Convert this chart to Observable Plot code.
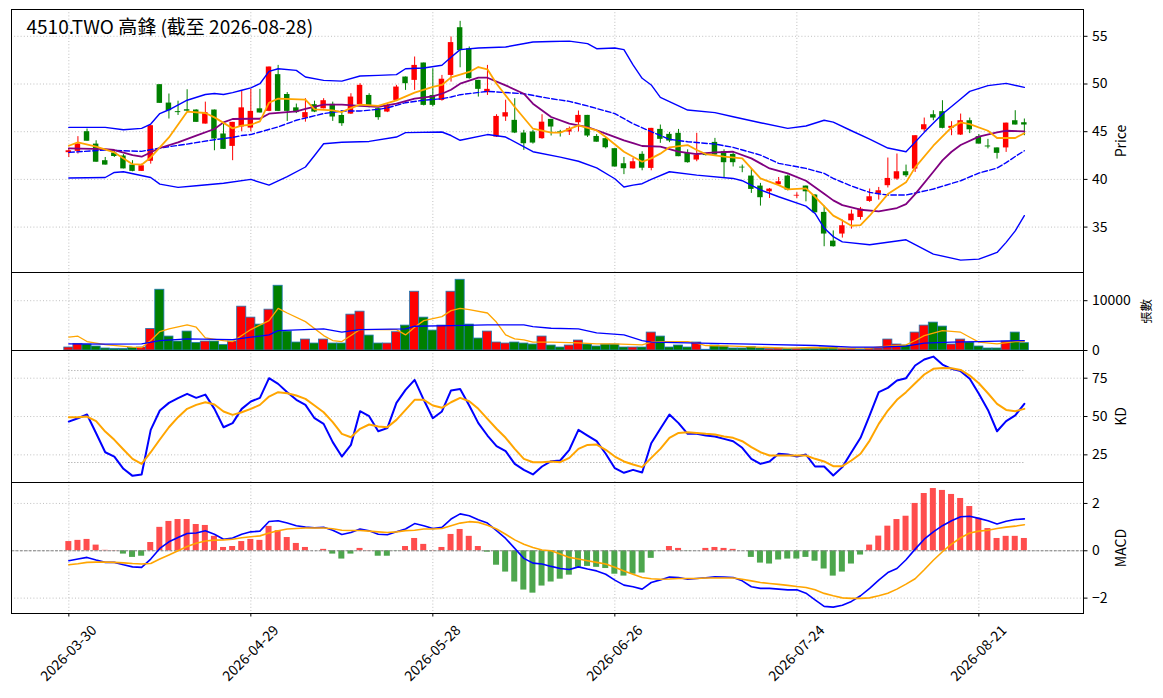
<!DOCTYPE html>
<html><head><meta charset="utf-8">
<script src="https://cdn.jsdelivr.net/npm/d3@7"></script>
<script src="https://cdn.jsdelivr.net/npm/@observablehq/plot@0.6"></script>
<style>
html,body{margin:0;padding:0;background:#fff;}
#chart{width:1163px;}
#chart svg{display:block;overflow:visible;}
</style></head><body><div id="chart"></div>
<script>
// ---------- data ----------
const titleText = "4510.TWO 高鋒 (截至 2026-08-28)";
const tickIdx = [0, 20, 40, 60, 80, 100];
const tickLabels = ["2026-03-30", "2026-04-29", "2026-05-28", "2026-06-26", "2026-07-24", "2026-08-21"];

const opens = [42.8,42.94,45.0,43.7,41.96,42.76,42.45,41.5,40.84,41.9, 49.93,48.0,47.1,47.3,47.27,45.8,47.27,44.76,43.46,45.5,
 45.38,47.4,47.13,50.98,48.9,47.5,46.43,47.83,47.4,47.87, 46.7,46.85,47.83,48.8,47.41,47.06,48.28,50.73,50.38,52.2,
 48.8,48.28,50.9,55.9,53.7,50.38,49.1,44.44,46.54,46.19, 44.86,44.97,44.27,46.29,44.95,44.97,45.94,46.71,44.5,44.27,
 43.22,41.64,41.1,42.63,41.15,45.24,44.72,44.83,42.73,42.03, 42.6,43.88,42.9,42.62,41.25,40.35,39.3,38.7,39.44,40.35,
 38.25,39.3,38.36,36.54,33.53,34.27,35.66,36.01,37.69,38.53, 39.34,40.03,40.8,41.08,45.2,46.78,47.1,45.35,44.65,46.15,
 44.48,43.5,43.3,43.3,46.15,45.94];
const highs = [43.2,44.48,45.28,44.05,42.3,43.0,42.6,41.96,41.6,45.63, 49.93,48.95,48.2,49.4,47.3,48.1,47.27,45.8,45.98,49.3,
 49.44,49.44,51.78,51.95,49.1,47.9,48.46,48.2,48.46,48.1, 47.2,48.98,50.03,48.98,47.45,47.9,49.86,50.73,52.83,52.2,
 51.6,50.9,54.93,56.57,53.88,50.38,51.95,46.78,48.3,48.46, 45.14,45.14,46.78,46.3,45.14,45.49,47.17,46.71,44.7,44.4,
 43.22,42.3,42.2,42.9,45.35,45.7,44.93,45.24,43.1,44.83, 42.65,44.3,43.1,42.9,41.5,41.15,39.58,39.05,40.2,40.45,
 38.6,39.3,38.4,37.2,34.6,35.73,36.78,37.06,38.99,39.16, 42.24,42.66,41.5,44.58,46.43,47.2,48.25,46.05,46.85,46.43,
 44.7,44.2,43.3,45.9,47.2,46.33];
const lows = [42.3,42.66,44.0,41.8,41.5,42.3,41.1,40.8,40.84,41.6, 47.97,46.33,46.7,47.1,45.98,45.8,43.0,43.15,41.96,45.0,
 45.0,46.96,47.1,47.1,46.08,46.9,46.0,47.0,47.4,46.08, 45.56,46.8,47.8,47.5,46.2,47.0,48.2,49.33,49.33,47.7,
 47.6,48.2,50.2,51.7,50.5,48.63,48.8,44.4,46.08,44.8, 43.04,43.7,44.2,44.55,44.44,44.6,44.97,44.4,43.9,43.2,
 41.3,40.5,41.08,40.9,40.9,43.78,43.85,42.38,41.7,41.85, 42.45,42.5,40.1,41.3,40.7,38.53,37.2,38.0,39.4,38.8,
 38.0,37.65,36.5,32.94,32.9,33.85,34.79,35.73,37.59,37.83, 39.1,39.9,40.2,40.73,45.0,46.15,45.3,44.58,44.6,44.8,
 43.7,43.2,42.13,42.83,45.7,44.58];
const closes = [43.0,43.7,44.0,41.8,41.5,42.4,41.1,40.84,41.43,45.63, 47.97,47.2,47.0,47.15,45.98,47.0,44.23,43.15,45.98,47.5,
 47.13,46.96,51.78,47.13,47.13,47.0,47.0,47.06,48.25,46.54, 45.84,48.63,49.86,47.76,46.47,47.69,49.68,50.03,51.95,47.76,
 47.76,50.5,54.34,53.5,50.56,49.44,49.44,46.6,46.99,44.86, 43.74,43.81,46.0,45.49,44.9,45.31,46.71,44.55,43.9,43.32,
 41.3,41.12,41.85,41.17,45.35,44.2,44.02,42.38,41.75,42.55, 42.5,42.55,41.75,41.75,41.2,38.95,38.08,38.98,39.75,38.88,
 38.3,38.7,36.5,34.27,32.94,35.14,36.36,36.89,38.18,38.81, 40.1,40.8,40.38,44.58,45.73,46.43,45.35,45.56,46.15,45.2,
 43.7,43.4,42.73,45.9,45.7,45.7];
const volumes = [600,1330,1200,800,400,330,330,530,600,4330, 12200,2800,1800,3800,1530,1800,1800,1130,1800,8800,
 6600,5200,8200,13000,3800,1600,2200,1400,2200,1400, 1400,7200,7800,3000,1400,1400,3670,5000,11800,6600,
 4000,5000,11800,14200,5200,2400,3800,1600,1400,1600, 1400,1200,2800,1000,600,1000,2000,1200,800,1200,
 1200,600,600,600,3600,2800,600,1000,600,1600, 150,1000,800,400,400,670,400,330,400,330,
 330,330,330,600,600,330,330,200,400,400, 2200,1200,1000,3600,5000,5600,4800,1200,2200,1600,
 800,400,400,1800,3600,1470];

// price-panel lines: [candle index, value]
const ma5 = [[0,43.53],[1,43.88],[3,43.43],[5,42.83],[7,41.6],[8,41.54],[9,42.3],[11,44.4],[13,47.1],[15,46.96],[16,46.5],[18,45.35],[19,45.63],[20,45.73],[21,46.08],[22,48.04],[23,48.46],[26,48.36],[27,47.34],[29,47.24],[30,47.06],[31,47.48],[32,47.83],[34,47.7],[36,48.29],[38,49.1],[40,49.69],[41,49.9],[42,50.7],[44,51.26],[45,51.78],[46,51.54],[47,50.03],[49,47.59],[51,45.31],[53,44.9],[54,44.9],[56,45.66],[58,45.14],[59,44.44],[61,42.9],[63,41.85],[64,42.2],[65,42.7],[66,43.36],[68,43.6],[69,43.08],[70,42.66],[72,42.38],[74,42.2],[75,41.15],[76,40.1],[78,39.4],[79,38.95],[81,39.05],[82,38.18],[83,37.2],[84,36.2],[85,35.7],[86,35.14],[87,35.2],[88,36.19],[90,38.46],[92,39.69],[93,41.26],[95,43.53],[97,45.45],[98,45.98],[99,45.8],[101,45.1],[102,44.34],[104,44.34],[105,44.83]];
const ma10 = [[0,43.25],[4,43.18],[5,43.08],[7,42.55],[8,42.38],[10,43.29],[12,43.88],[14,44.58],[16,45.28],[17,45.98],[18,46.33],[20,46.36],[21,46.36],[22,46.89],[25,47.13],[26,47.4],[28,47.83],[30,47.83],[32,47.7],[34,47.6],[36,47.94],[38,48.46],[40,48.7],[41,48.98],[42,49.4],[43,50.03],[45,50.66],[46,50.66],[48,49.86],[50,48.98],[51,47.94],[53,46.54],[55,45.84],[57,45.49],[59,44.79],[61,44.1],[62,43.8],[63,43.5],[65,43.43],[67,42.9],[69,42.66],[71,42.83],[73,42.9],[75,42.2],[77,41.15],[79,40.63],[81,39.86],[83,38.5],[84,37.8],[85,37.3],[87,36.82],[89,36.64],[91,37.0],[92,37.41],[93,38.46],[95,40.8],[96,42.0],[97,42.9],[98,43.6],[100,44.48],[102,44.93],[103,45.1],[105,45.03]];
const bbMid = [[0,42.83],[4,43.08],[6,43.0],[8,42.94],[10,43.29],[13,43.7],[16,44.16],[18,44.4],[19,44.6],[20,44.7],[21,44.97],[23,45.5],[25,46.2],[28,46.9],[30,47.17],[32,47.17],[34,47.34],[35,47.5],[37,48.04],[39,48.3],[41,48.46],[42,48.64],[43,48.88],[46,49.23],[50,48.98],[53,48.46],[55,48.18],[57,47.7],[60,46.9],[62,45.84],[64,45.0],[66,44.2],[68,43.95],[71,43.7],[73,43.36],[76,42.55],[78,41.68],[81,41.15],[83,40.63],[84,40.1],[85,39.7],[86,39.3],[88,38.64],[90,38.36],[92,38.36],[95,38.99],[98,39.86],[100,40.66],[102,41.19],[103,41.75],[104,42.4],[105,43.0]];
const bbUpper = [[0,45.45],[2,45.45],[4,45.45],[6,45.2],[8,45.35],[9,45.8],[10,46.9],[11,47.3],[13,48.3],[15,48.9],[16,49.0],[17,48.9],[18,49.1],[19,49.35],[20,49.6],[21,50.03],[22,51.33],[23,51.6],[25,51.43],[26,50.73],[28,50.38],[30,50.3],[32,50.84],[34,50.9],[36,50.98],[37,51.6],[39,51.68],[41,51.96],[42,52.8],[43,53.6],[45,53.78],[48,53.88],[51,54.4],[53,54.45],[55,54.5],[57,54.23],[58,53.7],[60,53.78],[61,53.6],[62,52.0],[63,50.6],[64,49.9],[65,48.6],[66,48.15],[68,47.27],[71,47.0],[73,46.57],[76,45.94],[79,45.35],[81,45.6],[83,46.2],[84,46.0],[86,45.1],[88,44.23],[90,43.29],[92,42.9],[94,44.93],[96,46.85],[98,48.43],[99,49.23],[101,49.83],[103,50.07],[105,49.65]];
const bbLower = [[0,40.14],[4,40.2],[5,40.73],[6,40.8],[9,40.2],[10,39.5],[12,39.16],[14,39.34],[17,39.6],[20,40.0],[22,39.4],[24,40.3],[26,41.3],[27,42.5],[28,43.74],[30,43.9],[33,43.98],[36,44.44],[37,44.9],[41,44.97],[42,44.6],[43,44.1],[46,44.7],[48,44.44],[51,42.9],[54,42.34],[56,41.9],[58,41.2],[60,40.07],[61,39.2],[62,39.4],[63,39.55],[64,40.0],[66,40.8],[69,40.45],[73,40.1],[74,39.86],[76,38.9],[78,38.18],[81,37.2],[82,36.43],[83,34.9],[84,34.0],[85,33.45],[88,33.15],[92,33.67],[95,32.17],[98,31.54],[100,31.64],[102,32.34],[103,33.4],[104,34.6],[105,36.2]];

// volume-panel lines
const volMa5 = [[0,2670],[1,2870],[2,1800],[4,1200],[7,670],[8,600],[9,2000],[10,3800],[11,4330],[13,5130],[14,4670],[15,2530],[17,2000],[18,1800],[19,3000],[20,4200],[22,6000],[23,8470],[24,7530],[26,5800],[28,3000],[29,2000],[30,1800],[31,3000],[32,4200],[34,4200],[36,4200],[37,3130],[38,4670],[39,6000],[41,6800],[42,8000],[43,8470],[44,8200],[46,7530],[47,5670],[48,3130],[49,2330],[50,2130],[51,1670],[53,1670],[56,1530],[58,1330],[60,1330],[63,1130],[64,1670],[65,1800],[68,1800],[69,1470],[70,1000],[73,870],[75,730],[79,470],[82,600],[85,470],[88,470],[89,730],[92,1130],[93,2000],[94,3000],[96,4000],[98,3670],[99,2670],[100,1670],[102,1330],[104,1800],[105,1800]];
const volMa20 = [[0,1330],[4,1270],[8,1330],[10,2000],[13,2330],[18,2200],[20,2670],[22,3130],[23,4000],[28,4330],[30,3670],[32,4200],[37,4330],[38,4870],[42,5000],[46,5130],[50,5130],[51,4800],[53,4470],[56,4330],[58,3530],[61,3130],[63,2000],[64,1670],[68,1530],[75,1270],[82,1000],[86,670],[89,670],[92,870],[94,1470],[97,1670],[100,1800],[105,2000]];

// KD
const kValues = [46.7,48.9,51.3,39.1,26.7,23.9,15.9,11.3,12.2,41.3,53.9,58.9,62.0,64.8,62.2,64.3,55.0,43.0,45.7,55.0,
 59.8,62.2,75.0,71.3,65.9,60.9,57.6,48.9,45.2,33.3,23.9,31.5,53.5,50.2,40.4,42.4,58.9,67.4,73.9,60.9,
 48.9,53.3,67.0,68.0,57.2,45.7,37.6,30.7,27.4,19.1,15.2,12.2,17.4,20.9,21.3,28.3,41.3,37.6,33.9,25.7,
 16.3,13.3,15.2,13.5,32.6,42,51.3,45.7,38.7,38.7,37.6,37,35.4,33.9,29.6,22.4,19.1,20.7,25.7,25.2,
 23.9,25.2,17.4,17.4,11.5,17,26.7,36.1,50.7,65.9,68.7,73.5,75,83.3,87.2,89.1,83.9,81.1,79.6,74.6,
 64.8,54.3,40.4,47,50.7,58.3];
const dValues = [49.6,49.6,50,47,40.2,34.8,28.5,22.4,19.1,26.7,35,43,49.6,55,57.6,59.3,57.8,53.3,51.1,52.8,
 55,57.6,63,65.9,65.2,63.7,61.5,57.2,52.8,46.3,38.7,36.5,42,44.8,43.5,43,47.8,54.3,60.9,60.9,
 57.2,55.7,59.3,62.2,60,55,48.5,42,36.1,28.9,22.4,20.2,20.2,20.7,20.2,23,28.9,31.5,31.7,28.3,
 23.9,20.7,18.7,17,23,28.9,36.1,39.3,39.8,39.3,38.7,38.3,37,36.1,33.9,30,26.7,24.6,24.6,24.6,
 24.6,24.6,22.4,20.7,17.6,17.6,21.3,25.7,34.3,45.2,53.9,60.9,65.9,71.7,77.4,81.1,81.7,81.5,80.4,76.7,
 71.7,65.2,58.3,54.3,53.5,55];

// MACD
const difValues = [-0.42,-0.35,-0.28,-0.39,-0.49,-0.49,-0.59,-0.68,-0.7,-0.35,0.1,0.38,0.56,0.73,0.75,0.85,0.7,0.49,0.54,0.7,
 0.8,0.83,1.24,1.27,1.17,1.06,1.0,0.97,0.99,0.87,0.69,0.77,0.92,0.85,0.7,0.68,0.8,0.92,1.15,1.06,
 0.94,0.99,1.34,1.56,1.48,1.31,1.17,0.85,0.52,0.1,-0.32,-0.52,-0.56,-0.66,-0.75,-0.79,-0.68,-0.77,-0.85,-0.99,
 -1.24,-1.45,-1.52,-1.62,-1.34,-1.23,-1.11,-1.13,-1.2,-1.17,-1.14,-1.1,-1.11,-1.13,-1.27,-1.52,-1.59,-1.59,-1.62,-1.65,
 -1.65,-1.79,-2.07,-2.35,-2.38,-2.3,-2.14,-1.9,-1.59,-1.24,-0.92,-0.75,-0.38,0.07,0.49,0.8,1.06,1.27,1.44,1.46,
 1.37,1.27,1.13,1.25,1.32,1.35];
const signalValues = [-0.59,-0.55,-0.49,-0.48,-0.48,-0.49,-0.51,-0.54,-0.56,-0.54,-0.35,-0.18,0,0.18,0.32,0.41,0.45,0.46,0.49,0.55,
 0.59,0.63,0.75,0.85,0.92,0.94,0.96,0.96,0.96,0.93,0.87,0.86,0.86,0.83,0.8,0.77,0.8,0.85,0.87,0.92,
 0.92,0.94,1.06,1.17,1.23,1.2,1.08,0.92,0.7,0.46,0.28,0.14,0.03,0.0,-0.14,-0.28,-0.35,-0.42,-0.49,-0.56,
 -0.7,-0.85,-0.99,-1.13,-1.18,-1.2,-1.19,-1.17,-1.17,-1.17,-1.15,-1.15,-1.15,-1.15,-1.2,-1.27,-1.34,-1.38,-1.42,-1.46,
 -1.51,-1.55,-1.65,-1.8,-1.9,-1.99,-2.01,-2.01,-1.99,-1.9,-1.79,-1.62,-1.41,-1.18,-0.8,-0.4,-0.04,0.28,0.55,0.75,
 0.83,0.87,0.94,1.0,1.04,1.1];
const histValues = [0.39,0.44,0.48,0.24,0.02,0.01,-0.14,-0.28,-0.23,0.35,0.99,1.24,1.32,1.32,1.11,1.07,0.61,0.14,0.18,0.39,
 0.48,0.44,1.03,0.85,0.56,0.31,0.14,0.0,0.06,-0.14,-0.35,-0.14,0.1,0.01,-0.23,-0.23,-0.01,0.18,0.52,0.27,
 0.01,0.14,0.69,0.9,0.61,0.18,-0.06,-0.61,-0.9,-1.32,-1.66,-1.79,-1.49,-1.32,-1.2,-1.03,-0.7,-0.66,-0.7,-0.75,
 -0.99,-1.07,-0.99,-0.94,-0.32,-0.01,0.18,0.1,-0.01,0.0,0.1,0.14,0.1,0.06,0.0,-0.28,-0.52,-0.56,-0.39,-0.35,
 -0.35,-0.28,-0.44,-0.77,-1.07,-0.9,-0.56,-0.18,0.24,0.62,1.04,1.32,1.46,2.0,2.42,2.63,2.55,2.38,2.21,1.87,
 1.37,0.94,0.52,0.61,0.61,0.52];

// ---------- layout ----------
const W = 1163, ML = 11, MR = 80;
const xDomain = [-6.3, 111.5];
const FONT = "'Noto Sans CJK TC','Noto Sans',sans-serif";
const UP = "#ff0000", DOWN = "#008000";

const candles = opens.map((o, i) => ({
  i, o, h: highs[i], l: lows[i], c: closes[i], v: volumes[i],
  col: closes[i] >= o ? UP : DOWN
}));
const series = (arr) => arr.map((v, i) => ({i, v}));
const kd = series(kValues), dd = series(dValues);
const dif = series(difValues), sig = series(signalValues);
const hist = histValues.map((v, i) => ({i, v, col: v >= 0 ? "#ff4d4d" : "#4da64d"}));

const gridStyle = {stroke: "#b0b0b0", strokeOpacity: 1, strokeDasharray: "1,2.2", strokeWidth: 0.8};
const grids = (yt) => [Plot.gridX(tickIdx, gridStyle), Plot.gridY(yt, gridStyle)];
const yAxis = (yt, fmt) => Plot.axisY(yt, {anchor: "right", tickSize: 3.5, tickPadding: 5, fontSize: 14,
  tickFormat: fmt, label: null, stroke: "black"});
const yLabel = (t, dx, fs) => Plot.text([t], {text: d => d, frameAnchor: "right", dx, rotate: -90,
  textAnchor: "middle", lineAnchor: "middle", fontSize: fs, fill: "black"});
const frame = Plot.frame({stroke: "black", strokeWidth: 1});
const pl = (arr, stroke, w, dash) => Plot.line(arr, {x: d => d[0], y: d => d[1], stroke, strokeWidth: w,
  strokeDasharray: dash, curve: "linear"});

function base(h, yDomain, mt, mb, marks) {
  return Plot.plot({
    width: W, height: h, marginLeft: ML, marginRight: MR, marginTop: mt, marginBottom: mb,
    x: {type: "linear", domain: xDomain, axis: null},
    y: {type: "linear", domain: yDomain, axis: null},
    color: {type: "identity"},
    style: {fontFamily: FONT, fontSize: "14px", background: "white", color: "black", overflow: "visible"},
    marks
  });
}

const chart = document.getElementById("chart");

// Price panel
chart.appendChild(base(272, [30.24, 57.81], 9, 0, [
  ...grids([35, 40, 45, 50, 55]),
  Plot.ruleX(candles, {x: "i", y1: "l", y2: "h", stroke: "col", strokeWidth: 1}),
  Plot.rect(candles, {x1: d => d.i - 0.3, x2: d => d.i + 0.3,
    y1: d => Math.min(d.o, d.c), y2: d => Math.max(d.o, d.c, Math.min(d.o, d.c) + 0.08), fill: "col"}),
  pl(bbUpper, "blue", 1.4),
  pl(bbLower, "blue", 1.4),
  pl(bbMid, "blue", 1.4, "5.5,2.4"),
  pl(ma10, "purple", 1.8),
  pl(ma5, "orange", 1.8),
  frame,
  yAxis([35, 40, 45, 50, 55]),
  yLabel("Price", 38, 14),
  Plot.text([titleText], {text: d => d, frameAnchor: "top-left", dx: 15, dy: 11, textAnchor: "start",
    lineAnchor: "top", fontSize: 19, fontWeight: 400, fill: "black"})
]));

// Volume panel
chart.appendChild(base(78, [0, 15660], 0, 0, [
  ...grids([0, 10000]),
  Plot.rect(candles, {x1: d => d.i - 0.5, x2: d => d.i + 0.5, y1: 0, y2: "v", fill: "col",
    stroke: "#1f77b4", strokeWidth: 0.8}),
  pl(volMa5, "orange", 1.3),
  pl(volMa20, "blue", 1.3),
  frame,
  yAxis([0, 10000], d => String(d)),
  yLabel("張數", 63, 12.5)
]));

// KD panel
chart.appendChild(base(132, [6.96, 93.07], 0, 0, [
  ...grids([25, 50, 75]),
  Plot.ruleY([20, 80], {x1: 0, x2: candles.length - 1, stroke: "#909090", strokeDasharray: "1,2", strokeWidth: 0.9}),
  Plot.line(kd, {x: "i", y: "v", stroke: "blue", strokeWidth: 2}),
  Plot.line(dd, {x: "i", y: "v", stroke: "orange", strokeWidth: 2}),
  frame,
  yAxis([25, 50, 75]),
  yLabel("KD", 38, 14)
]));

// MACD panel (with date axis)
chart.appendChild(base(216, [-2.65, 2.885], 0, 85, [
  ...grids([-2, 0, 2]),
  Plot.rect(hist, {x1: d => d.i - 0.33, x2: d => d.i + 0.33, y1: 0, y2: "v", fill: "col"}),
  Plot.ruleY([0], {stroke: "gray", strokeDasharray: "3,1.4", strokeWidth: 1}),
  Plot.line(dif, {x: "i", y: "v", stroke: "blue", strokeWidth: 1.6}),
  Plot.line(sig, {x: "i", y: "v", stroke: "orange", strokeWidth: 1.6}),
  frame,
  yAxis([-2, 0, 2]),
  yLabel("MACD", 38, 14),
  Plot.axisX(tickIdx, {anchor: "bottom", tickSize: 3.5, tickFormat: () => "", label: null, stroke: "black"}),
  Plot.text(tickIdx, {x: d => d, text: (d, i) => tickLabels[i], frameAnchor: "bottom", dy: 40, rotate: -45,
    textAnchor: "middle", lineAnchor: "middle", fontSize: 14, fill: "black"})
]));
</script></body></html>
